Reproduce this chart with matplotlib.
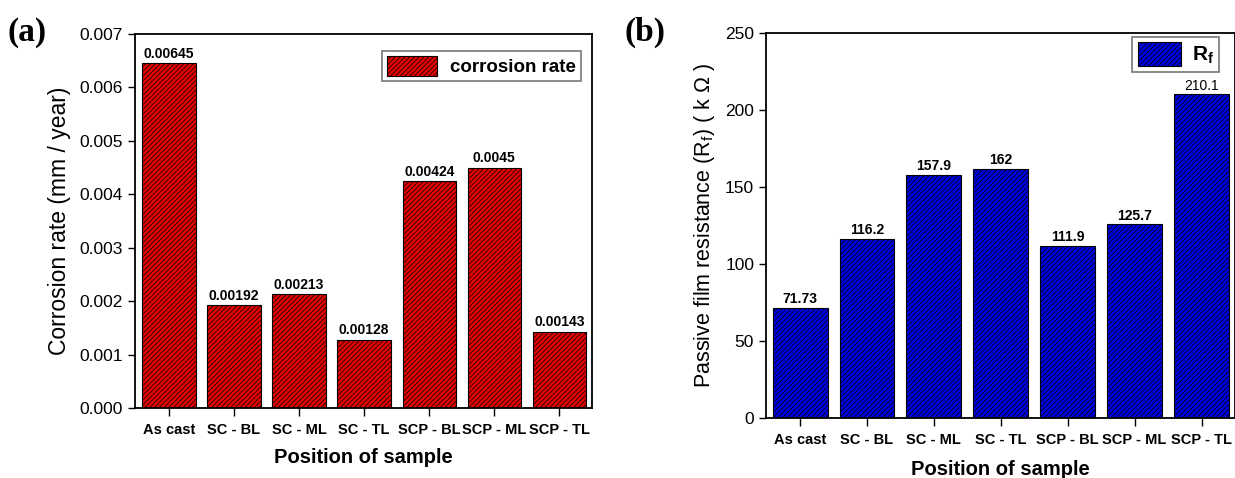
import matplotlib
matplotlib.use("Agg")
import matplotlib.pyplot as plt
from matplotlib.ticker import MultipleLocator, FormatStrFormatter

plt.rcParams['font.family'] = ['Liberation Sans', 'DejaVu Sans']
plt.rcParams['mathtext.fontset'] = 'custom'
plt.rcParams['mathtext.rm'] = 'Liberation Sans'
plt.rcParams['mathtext.it'] = 'Liberation Sans:italic'
plt.rcParams['mathtext.bf'] = 'Liberation Sans:bold'
plt.rcParams['hatch.linewidth'] = 0.5

categories = ["As cast", "SC - BL", "SC - ML", "SC - TL", "SCP - BL", "SCP - ML", "SCP - TL"]
corrosion_rate = [0.00645, 0.00192, 0.00213, 0.00128, 0.00424, 0.0045, 0.00143]
corrosion_labels = ["0.00645", "0.00192", "0.00213", "0.00128", "0.00424", "0.0045", "0.00143"]
rf_values = [71.73, 116.2, 157.9, 162, 111.9, 125.7, 210.1]
rf_labels = ["71.73", "116.2", "157.9", "162", "111.9", "125.7", "210.1"]

fig = plt.figure(figsize=(12.35, 4.78), dpi=100)
ax1 = fig.add_axes([0.1093, 0.1464, 0.370, 0.7824])
ax2 = fig.add_axes([0.6202, 0.1255, 0.3798, 0.8054])

x = list(range(len(categories)))

# (a)
ax1.bar(x, corrosion_rate, width=0.82, color='#e30000', edgecolor='black',
        linewidth=0.8, hatch='///////', label='corrosion rate')
for xi, v, s in zip(x, corrosion_rate, corrosion_labels):
    ax1.text(xi, v + 0.00004, s, ha='center', va='bottom', fontsize=10, fontweight='bold')
ax1.set_xlim(-0.52, 6.5)
ax1.set_ylim(0, 0.007)
ax1.yaxis.set_major_locator(MultipleLocator(0.001))
ax1.yaxis.set_major_formatter(FormatStrFormatter('%.3f'))
ax1.set_xticks(x)
ax1.set_xticklabels(categories, fontsize=10.5, fontweight='bold')
ax1.tick_params(axis='y', labelsize=12.5, direction='out', length=5, width=1)
ax1.tick_params(axis='x', direction='out', length=6, width=1, pad=5)
ax1.set_ylabel('Corrosion rate (mm / year)', fontsize=16.5, labelpad=6)
ax1.set_xlabel('Position of sample', fontsize=14.5, fontweight='bold', labelpad=8)
leg1 = ax1.legend(loc='upper right', prop={'size': 13.5, 'weight': 'bold'},
                  handlelength=2.7, handleheight=1.3, handletextpad=0.7,
                  fancybox=False, edgecolor='#555555', borderpad=0.25,
                  borderaxespad=0, bbox_to_anchor=(0.976, 0.955))
leg1.get_frame().set_linewidth(1.2)
for sp in ax1.spines.values():
    sp.set_linewidth(1.3)

# (b)
ax2.bar(x, rf_values, width=0.82, color='#0000e0', edgecolor='black',
        linewidth=0.8, hatch='///////', label=r'$\mathbf{R_f}$')
for xi, v, s in zip(x, rf_values, rf_labels):
    ax2.text(xi, v + 1.2, s, ha='center', va='bottom', fontsize=10,
             fontweight='normal' if s == '210.1' else 'bold')
ax2.set_xlim(-0.51, 6.5)
ax2.set_ylim(0, 250)
ax2.yaxis.set_major_locator(MultipleLocator(50))
ax2.set_xticks(x)
ax2.set_xticklabels(categories, fontsize=10.5, fontweight='bold')
ax2.tick_params(axis='y', labelsize=12.5, direction='out', length=5, width=1)
ax2.tick_params(axis='x', direction='out', length=6, width=1, pad=5)
ax2.set_ylabel(r'Passive film resistance (R$_{\mathrm{f}}$) ( k $\Omega$ )', fontsize=15.5, labelpad=6)
ax2.set_xlabel('Position of sample', fontsize=14.5, fontweight='bold', labelpad=9)
leg2 = ax2.legend(loc='upper right', fontsize=15, handlelength=2.1, handleheight=1.4,
                  handletextpad=0.5,
                  fancybox=False, edgecolor='#555555', borderpad=0.25,
                  borderaxespad=0, bbox_to_anchor=(0.966, 0.99))
leg2.get_frame().set_linewidth(1.2)
for sp in ax2.spines.values():
    sp.set_linewidth(1.3)

fig.text(0.006, 0.933, '(a)', fontsize=24, fontweight='bold', family='Liberation Serif', va='center')
fig.text(0.506, 0.933, '(b)', fontsize=24, fontweight='bold', family='Liberation Serif', va='center')

fig.savefig('out.png', dpi=100)
